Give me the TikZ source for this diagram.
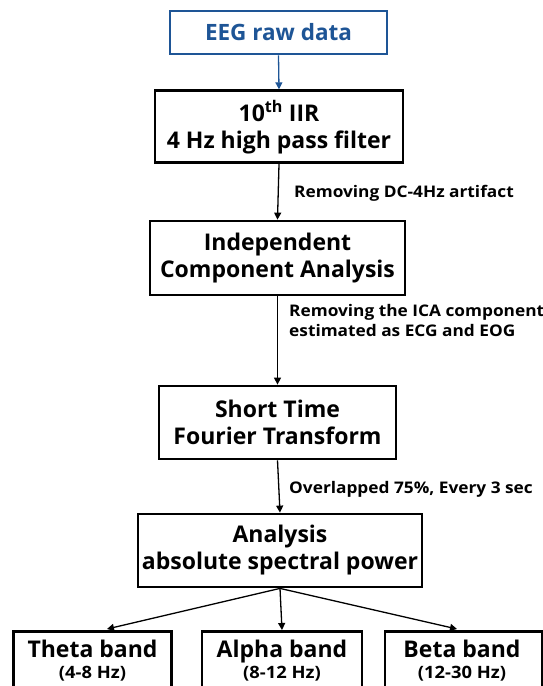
\documentclass[tikz,border=0pt]{standalone}
\usepackage{fontspec}
\setmainfont{Open Sans}
\newfontfamily\lblfont{Open Sans}[FakeStretch=1.08]
\usetikzlibrary{arrows.meta}
\definecolor{eegblue}{RGB}{30,85,150}
\tikzset{
  box/.style={draw=black, line width=2.8pt, inner sep=0pt, align=center,
    font=\fontsize{23}{27}\selectfont\bfseries},
  bluebox/.style={box, draw=eegblue, text=eegblue, font=\fontsize{22.5}{27}\selectfont\bfseries},
  conn/.style={line width=1.3pt, -{Triangle[width=7pt,length=7pt]}},
  lbl/.style={font=\lblfont\fontsize{16}{20}\selectfont\bfseries, inner sep=0pt, align=left},
  bandtxt/.style={font=\fontsize{23}{27}\selectfont\bfseries, inner sep=0pt},
  rangetxt/.style={font=\lblfont\fontsize{17}{20}\selectfont\bfseries, inner sep=0pt},
}
\begin{document}
\begin{tikzpicture}[x=1pt,y=-1pt]
\useasboundingbox (0,0) rectangle (543,686);
\clip (0,0) rectangle (543,686);
\node[bluebox, minimum width=217, minimum height=43] (eeg) at (278.5,32.5) {EEG raw data};
\node[box, minimum width=248, minimum height=72] (iir) at (279,126.7) {10\textsuperscript{th} IIR\\4 Hz high pass filter};
\node[box, minimum width=255, minimum height=74] (ica) at (277.5,258) {Independent\\Component Analysis};
\node[box, minimum width=237, minimum height=73] (stft) at (277.5,422.5) {Short Time\\Fourier Transform};
\node[box, minimum width=284, minimum height=73] (ana) at (280,550.5) {Analysis\\absolute spectral power};
\node[box, minimum width=158.5, minimum height=73, anchor=north] (theta) at (92.5,630) {};
\node[box, minimum width=160, minimum height=73, anchor=north] (alpha) at (282,630) {};
\node[box, minimum width=157, minimum height=73, anchor=north] (beta) at (463.5,630) {};
\node[bandtxt, anchor=base] (thetat) at (92.5,657.5) {Theta band};
\node[bandtxt, anchor=base] (alphat) at (282,657.5) {Alpha band};
\node[bandtxt, anchor=base] (betat) at (462,657.5) {Beta band};
\node[rangetxt, anchor=base] (thetar) at (92.5,678.5) {(4-8 Hz)};
\node[rangetxt, anchor=base] (alphar) at (282,678.5) {(8-12 Hz)};
\node[rangetxt, anchor=base] (betar) at (462,678.5) {(12-30 Hz)};

\draw[conn, eegblue] (eeg.south) -- (iir.north);
\draw[conn] (iir.south) -- (ica.north);
\draw[conn] (ica.south) -- (stft.north);
\draw[conn] (stft.south) -- (ana.north);
\coordinate (tl) at (107,629);
\coordinate (tr) at (457,629);
\draw[conn] (ana.south) -- (tl);
\draw[conn] (ana.south) -- (alpha.north);
\draw[conn] (ana.south) -- (tr);

\node[lbl, anchor=base west] (l1) at (294,197) {Removing DC-4Hz artifact};
\node[lbl, anchor=base west] (l2) at (289,336) {Removing the ICA component\\estimated as ECG and EOG};
\node[lbl, anchor=base west] (l3) at (289,493) {Overlapped 75\%, Every 3 sec};
\end{tikzpicture}
\end{document}
